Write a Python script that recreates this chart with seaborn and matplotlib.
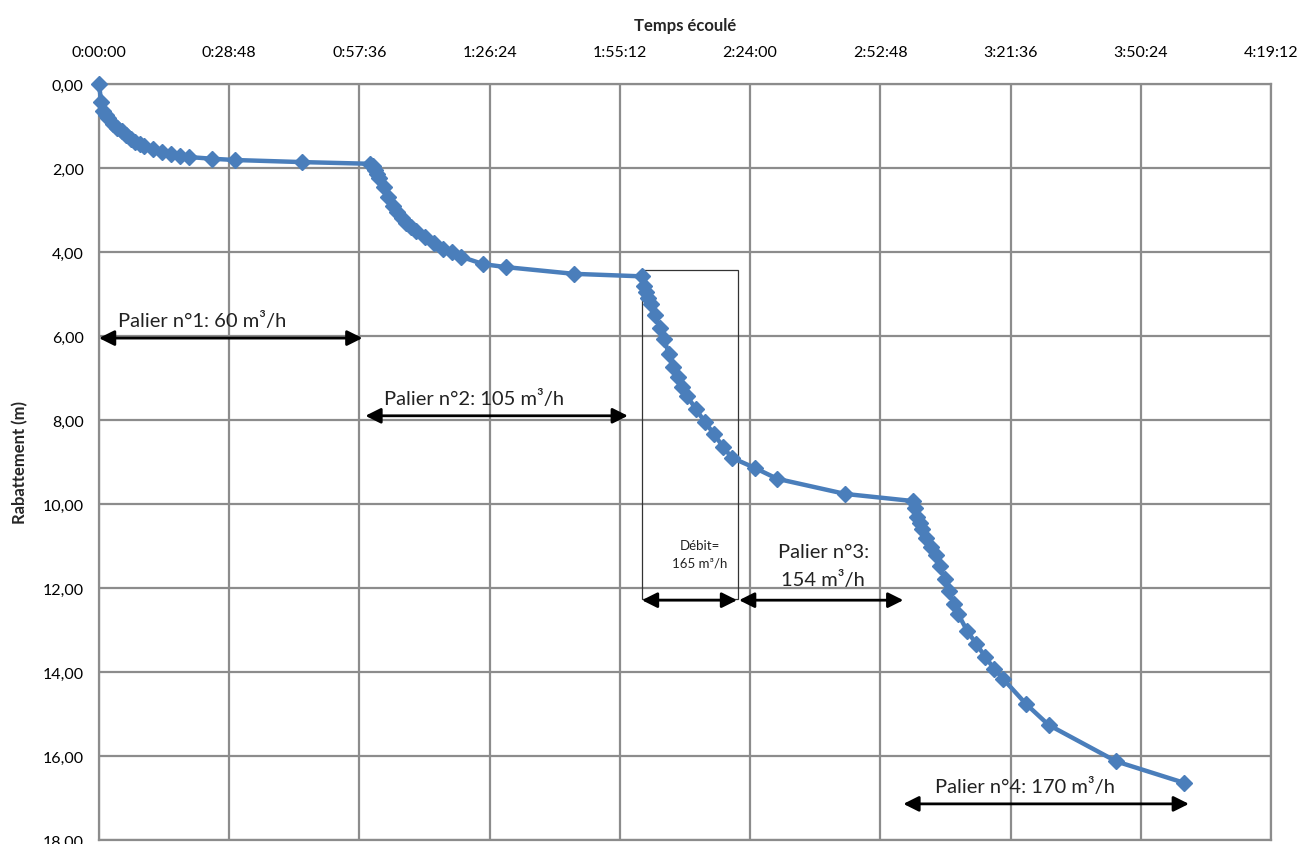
import matplotlib
matplotlib.use("Agg")
import matplotlib.pyplot as plt
from matplotlib.ticker import FuncFormatter
from matplotlib.patches import Rectangle
import seaborn as sns
import pandas as pd

# Elapsed time (minutes) and drawdown (m)
temps_min = [0,
    0.5, 1, 1.5, 2, 3, 4, 5, 6, 7, 8, 9, 10, 12, 14, 16, 18, 20, 25, 30, 45, 60,
    60.5, 61, 61.5, 62, 63, 64, 65, 66, 67, 68, 69, 70, 72, 74, 76, 78, 80, 85, 90, 105, 120,
    120.5, 121, 121.5, 122, 123, 124, 125, 126, 127, 128, 129, 130, 132, 134, 136, 138, 140, 145, 150, 165, 180,
    180.5, 181, 181.5, 182, 183, 184, 185, 186, 187, 188, 189, 190, 192, 194, 196, 198, 200, 205, 210, 225, 240]
rabattement = [0.00,
    0.43, 0.65, 0.75, 0.82, 0.95, 1.05, 1.13, 1.22, 1.30, 1.37, 1.43, 1.48, 1.55, 1.61, 1.67, 1.71, 1.74, 1.78, 1.81, 1.86, 1.90,
    1.96, 2.05, 2.15, 2.25, 2.45, 2.70, 2.90, 3.05, 3.18, 3.30, 3.40, 3.50, 3.65, 3.79, 3.92, 4.01, 4.11, 4.29, 4.36, 4.52, 4.58,
    4.80, 4.95, 5.10, 5.25, 5.50, 5.80, 6.07, 6.43, 6.74, 6.98, 7.21, 7.42, 7.74, 8.05, 8.33, 8.64, 8.90, 9.14, 9.40, 9.76, 9.93,
    10.10, 10.30, 10.45, 10.60, 10.82, 11.02, 11.22, 11.47, 11.79, 12.06, 12.38, 12.62, 13.02, 13.33, 13.64, 13.93, 14.17, 14.76, 15.26, 16.13, 16.64]

x_tick_seconds = [0, 1728, 3456, 5184, 6912, 8640, 10368, 12096, 13824, 15552]
y_ticks = [0, 2, 4, 6, 8, 10, 12, 14, 16, 18]

titre_x = "Temps écoulé"
titre_y = "Rabattement (m)"

df = pd.DataFrame({"t": [m * 60 for m in temps_min], "s": rabattement})

sns.set_style("white")
plt.rcParams['font.family'] = ['Lato', 'DejaVu Sans']

BLUE = "#4a7ebb"
GRID = "#8c8c8c"

fig = plt.figure(figsize=(12.97, 8.45), dpi=100)
ax = fig.add_axes([0.0763, 0.00473, 0.9037, 0.8947])

sns.lineplot(data=df, x="t", y="s", ax=ax, color=BLUE, linewidth=3.2,
             marker="D", markersize=8.5, markeredgecolor=BLUE, markeredgewidth=1,
             sort=False, zorder=5, clip_on=False)

ax.set_xlim(0, 15552)
ax.set_ylim(18, 0)
ax.set_xticks(x_tick_seconds)
ax.set_yticks(y_ticks)

def fmt_time(v, pos):
    v = int(round(v))
    h = v // 3600
    m = (v % 3600) // 60
    s = v % 60
    return f"{h}:{m:02d}:{s:02d}"

ax.xaxis.set_major_formatter(FuncFormatter(fmt_time))
ax.yaxis.set_major_formatter(FuncFormatter(lambda v, p: f"{v:.2f}".replace(".", ",")))
ax.xaxis.tick_top()
ax.xaxis.set_label_position("top")
ax.tick_params(axis="x", length=0, pad=18, labelsize=11.5, colors="black")
ax.tick_params(axis="y", length=0, pad=11, labelsize=11.5, colors="black")

ax.grid(True, color=GRID, linewidth=1.6)
for sp in ax.spines.values():
    sp.set_color(GRID)
    sp.set_linewidth(1.6)

ax.set_xlabel(titre_x, fontsize=12, fontweight="bold", labelpad=11)
ax.set_ylabel(titre_y, fontsize=12, fontweight="bold", labelpad=10)

arrow = dict(arrowstyle="<|-|>", color="black", lw=2, mutation_scale=23,
             shrinkA=0, shrinkB=0)

def darrow(x1, x2, y):
    ax.annotate("", xy=(x2, y), xytext=(x1, y), arrowprops=arrow, zorder=6)

darrow(0, 3496, 6.05)
darrow(3535, 7018, 7.90)
darrow(7204, 8467, 12.29)
darrow(8493, 10673, 12.29)
darrow(10673, 14462, 17.14)

ax.add_patch(Rectangle((7204, 4.43), 8480 - 7204, 12.26 - 4.43, fill=False,
                       edgecolor="#333333", linewidth=0.9, zorder=4))

tk = dict(fontsize=14.5, color="#222222", zorder=7)
ax.text(253, 5.62, "Palier n°1: 60 m³/h", va="center", ha="left", **tk)
ax.text(3788, 7.48, "Palier n°2: 105 m³/h", va="center", ha="left", **tk)
ax.text(9610, 11.14, "Palier n°3:", va="center", ha="center", **tk)
ax.text(9610, 11.79, "154 m³/h", va="center", ha="center", **tk)
ax.text(11099, 16.71, "Palier n°4: 170 m³/h", va="center", ha="left", **tk)
ax.text(7975, 10.98, "Débit=", va="center", ha="center", fontsize=9.5, color="#222222", zorder=7)
ax.text(7975, 11.40, "165 m³/h", va="center", ha="center", fontsize=9.5, color="#222222", zorder=7)

fig.savefig("out.png", dpi=100)
